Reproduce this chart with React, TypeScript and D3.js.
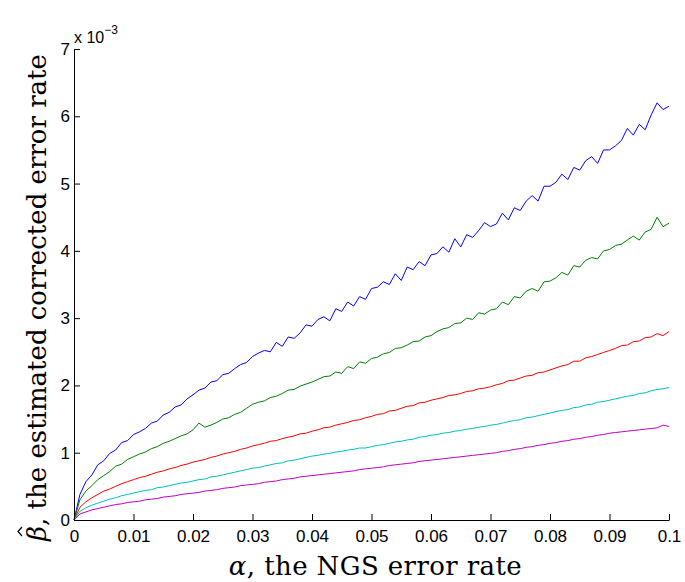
import React, { useEffect, useRef } from "react";
import * as d3 from "d3";

// alpha grid: 0 .. 0.1 in steps of 0.001
const alphaSteps = d3.range(0, 101).map((i) => i / 1000);

// estimated corrected error rate, in units of 1e-3
const blueVals = [
  0, 0.38, 0.57, 0.67, 0.82, 0.88, 0.99, 1.04, 1.15, 1.18, 1.27,
  1.31, 1.36, 1.44, 1.47, 1.56, 1.60, 1.68, 1.71, 1.80, 1.86,
  1.93, 1.96, 2.05, 2.07, 2.16, 2.18, 2.25, 2.31, 2.34, 2.43,
  2.48, 2.52, 2.50, 2.64, 2.58, 2.72, 2.70, 2.78, 2.90, 2.88,
  2.98, 3.02, 2.96, 3.14, 3.10, 3.24, 3.18, 3.32, 3.28, 3.44,
  3.46, 3.54, 3.50, 3.66, 3.56, 3.76, 3.72, 3.84, 3.78, 3.94,
  3.96, 4.06, 3.98, 4.18, 4.06, 4.24, 4.20, 4.30, 4.42, 4.36,
  4.40, 4.56, 4.46, 4.64, 4.60, 4.74, 4.82, 4.74, 4.96, 4.96,
  5.02, 5.14, 5.06, 5.24, 5.20, 5.34, 5.40, 5.30, 5.50, 5.50,
  5.56, 5.64, 5.82, 5.72, 5.88, 5.80, 6.02, 6.20, 6.10, 6.15,
];
const greenVals = [
  0, 0.30, 0.43, 0.51, 0.60, 0.66, 0.72, 0.80, 0.83, 0.90, 0.94,
  0.98, 1.01, 1.06, 1.09, 1.14, 1.17, 1.21, 1.25, 1.28, 1.34,
  1.44, 1.38, 1.41, 1.45, 1.50, 1.52, 1.57, 1.60, 1.66, 1.72,
  1.75, 1.77, 1.82, 1.84, 1.88, 1.93, 1.94, 1.99, 2.02, 2.05,
  2.09, 2.13, 2.14, 2.20, 2.18, 2.28, 2.25, 2.35, 2.33, 2.40,
  2.42, 2.47, 2.49, 2.55, 2.56, 2.60, 2.65, 2.66, 2.72, 2.74,
  2.80, 2.84, 2.86, 2.92, 2.93, 3.00, 2.98, 3.08, 3.06, 3.12,
  3.14, 3.24, 3.20, 3.32, 3.30, 3.40, 3.44, 3.40, 3.54, 3.55,
  3.60, 3.68, 3.64, 3.78, 3.76, 3.86, 3.90, 3.88, 4.00, 4.02,
  4.08, 4.10, 4.16, 4.22, 4.16, 4.28, 4.32, 4.50, 4.36, 4.41,
];
const redVals = [
  0, 0.19, 0.27, 0.33, 0.38, 0.43, 0.46, 0.50, 0.54, 0.57, 0.60,
  0.63, 0.65, 0.68, 0.71, 0.73, 0.76, 0.78, 0.81, 0.83, 0.86,
  0.88, 0.90, 0.93, 0.95, 0.98, 1.00, 1.02, 1.05, 1.07, 1.10,
  1.12, 1.14, 1.17, 1.18, 1.21, 1.23, 1.25, 1.28, 1.29, 1.32,
  1.34, 1.37, 1.38, 1.41, 1.43, 1.45, 1.48, 1.49, 1.52, 1.54,
  1.57, 1.58, 1.62, 1.63, 1.66, 1.69, 1.70, 1.74, 1.75, 1.78,
  1.80, 1.82, 1.85, 1.86, 1.88, 1.91, 1.92, 1.95, 1.96, 1.98,
  2.01, 2.03, 2.07, 2.08, 2.11, 2.14, 2.15, 2.19, 2.20, 2.23,
  2.26, 2.29, 2.31, 2.36, 2.36, 2.41, 2.43, 2.46, 2.49, 2.52,
  2.55, 2.59, 2.60, 2.65, 2.66, 2.71, 2.72, 2.77, 2.74, 2.80,
];
const cyanVals = [
  0, 0.13, 0.18, 0.22, 0.25, 0.28, 0.31, 0.33, 0.36, 0.38, 0.40,
  0.42, 0.44, 0.45, 0.48, 0.49, 0.51, 0.53, 0.55, 0.56, 0.58,
  0.60, 0.61, 0.64, 0.65, 0.67, 0.69, 0.71, 0.73, 0.75, 0.77,
  0.78, 0.80, 0.82, 0.84, 0.85, 0.88, 0.89, 0.91, 0.93, 0.95,
  0.96, 0.98, 0.99, 1.01, 1.02, 1.04, 1.05, 1.07, 1.07, 1.09,
  1.11, 1.12, 1.14, 1.16, 1.17, 1.19, 1.20, 1.23, 1.24, 1.26,
  1.27, 1.29, 1.30, 1.32, 1.33, 1.35, 1.36, 1.38, 1.39, 1.41,
  1.42, 1.44, 1.46, 1.48, 1.49, 1.52, 1.53, 1.55, 1.57, 1.59,
  1.61, 1.63, 1.64, 1.67, 1.68, 1.71, 1.72, 1.75, 1.76, 1.78,
  1.80, 1.82, 1.84, 1.85, 1.88, 1.89, 1.92, 1.94, 1.95, 1.97,
];
const magentaVals = [
  0, 0.09, 0.12, 0.15, 0.17, 0.19, 0.21, 0.23, 0.24, 0.26, 0.27,
  0.28, 0.30, 0.31, 0.32, 0.34, 0.35, 0.36, 0.38, 0.39, 0.40,
  0.41, 0.43, 0.44, 0.45, 0.47, 0.48, 0.49, 0.51, 0.52, 0.53,
  0.54, 0.56, 0.57, 0.58, 0.60, 0.61, 0.62, 0.64, 0.65, 0.66,
  0.67, 0.68, 0.69, 0.70, 0.71, 0.72, 0.73, 0.75, 0.76, 0.77,
  0.78, 0.79, 0.81, 0.82, 0.83, 0.84, 0.85, 0.87, 0.88, 0.89,
  0.90, 0.91, 0.92, 0.93, 0.94, 0.95, 0.96, 0.97, 0.98, 0.99,
  1.00, 1.02, 1.03, 1.05, 1.06, 1.08, 1.09, 1.11, 1.12, 1.14,
  1.15, 1.17, 1.18, 1.20, 1.21, 1.23, 1.24, 1.26, 1.27, 1.29,
  1.30, 1.31, 1.32, 1.33, 1.34, 1.35, 1.36, 1.37, 1.41, 1.39,
];

const seriesList = [
  { name: "blue", color: "#0000ff", values: blueVals },
  { name: "green", color: "#008000", values: greenVals },
  { name: "red", color: "#ff0000", values: redVals },
  { name: "cyan", color: "#00bfbf", values: cyanVals },
  { name: "magenta", color: "#bf00bf", values: magentaVals },
];

const xTicks = [0, 0.01, 0.02, 0.03, 0.04, 0.05, 0.06, 0.07, 0.08, 0.09, 0.1];
const yTicks = [0, 1, 2, 3, 4, 5, 6, 7];

const App = () => {
  const ref = useRef<SVGSVGElement>(null);

  useEffect(() => {
    const width = 685;
    const height = 582;
    const margin = { top: 49, right: 16, bottom: 62, left: 74 };

    const svg = d3.select(ref.current);
    svg.selectAll("*").remove();
    svg.attr("width", width).attr("height", height);

    const x = d3
      .scaleLinear()
      .domain([0, 0.1])
      .range([margin.left, width - margin.right]);
    const y = d3
      .scaleLinear()
      .domain([0, 7])
      .range([height - margin.bottom, margin.top]);

    const tickFont = "'Liberation Sans', Arial, sans-serif";

    // lines
    const line = d3
      .line<number>()
      .x((_, i) => x(alphaSteps[i]))
      .y((d) => y(d));

    seriesList.forEach((s) => {
      svg
        .append("path")
        .datum(s.values)
        .attr("fill", "none")
        .attr("stroke", s.color)
        .attr("stroke-width", 1)
        .attr("stroke-linejoin", "round")
        .attr("d", line);
    });

    // x axis, ticks pointing inward
    const gx = svg
      .append("g")
      .attr("transform", `translate(0,${y(0)})`)
      .call(
        d3
          .axisBottom(x)
          .tickValues(xTicks)
          .tickFormat((d) => (d === 0 ? "0" : d3.format("~g")(d as number)))
          .tickSizeInner(-6)
          .tickSizeOuter(0)
          .tickPadding(10)
      );
    gx.selectAll("text")
      .attr("font-family", tickFont)
      .attr("font-size", 17)
      .attr("fill", "#000");
    gx.selectAll("line,path").attr("stroke", "#000");

    // y axis
    const gy = svg
      .append("g")
      .attr("transform", `translate(${x(0)},0)`)
      .call(
        d3
          .axisLeft(y)
          .tickValues(yTicks)
          .tickFormat(d3.format("d"))
          .tickSizeInner(-6)
          .tickSizeOuter(0)
          .tickPadding(4)
      );
    gy.selectAll("text")
      .attr("font-family", tickFont)
      .attr("font-size", 17)
      .attr("fill", "#000");
    gy.selectAll("line,path").attr("stroke", "#000");

    // exponent label
    const expo = svg
      .append("text")
      .attr("x", x(0))
      .attr("y", 43)
      .attr("font-family", tickFont)
      .attr("font-size", 16)
      .attr("fill", "#000");
    expo.append("tspan").text("x 10");
    expo
      .append("tspan")
      .attr("font-size", 12)
      .attr("dy", -9)
      .text("\u22123");

    const titleFont = "'DejaVu Serif', serif";

    // x title
    const xt = svg
      .append("text")
      .attr("x", (x(0) + x(0.1)) / 2 + 4)
      .attr("y", 575)
      .attr("text-anchor", "middle")
      .attr("font-family", titleFont)
      .attr("font-size", 26)
      .attr("letter-spacing", 0.4)
      .attr("fill", "#000");
    xt.append("tspan").attr("font-style", "italic").text("\u03b1");
    xt.append("tspan").text(", the NGS error rate");

    // y title, rotated, with a hat drawn over beta
    const gt = svg
      .append("g")
      .attr("transform", "translate(46,541) rotate(-90)");
    const yt = gt
      .append("text")
      .attr("x", 0)
      .attr("y", 0)
      .attr("font-family", titleFont)
      .attr("font-size", 26)
      .attr("fill", "#000");
    yt.append("tspan").attr("font-style", "italic").text("\u03b2");
    yt.append("tspan").text(", the estimated corrected error rate");
    gt.append("path")
      .attr("d", "M5,-24 L9.5,-28 L14,-24")
      .attr("fill", "none")
      .attr("stroke", "#000")
      .attr("stroke-width", 1.2);
  }, []);

  return (
    <svg
      ref={ref}
      style={{ position: "absolute", left: 0, top: 0, background: "#fff" }}
    ></svg>
  );
};

export default App;
